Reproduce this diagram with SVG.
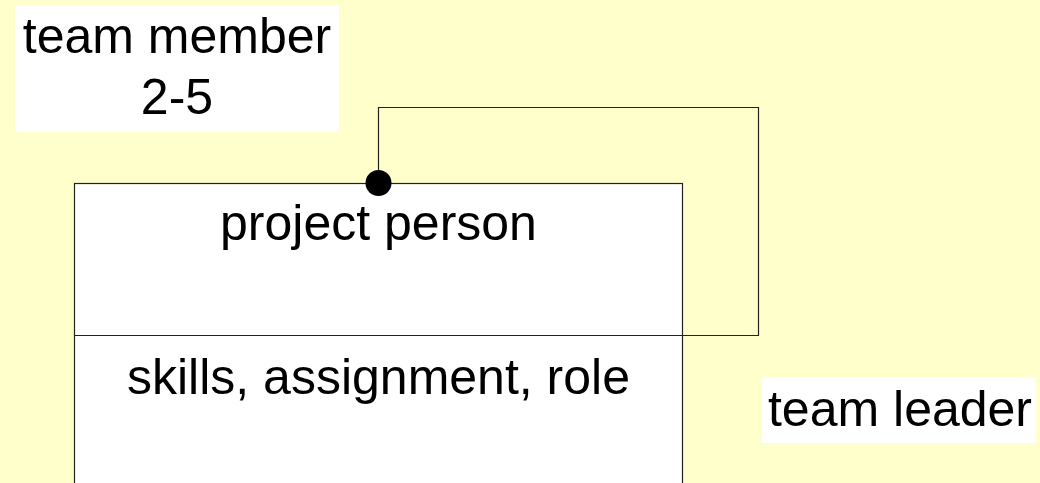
<svg xmlns="http://www.w3.org/2000/svg" width="1040" height="483" viewBox="0 0 1040 483">
<style>
.t{font-family:"Liberation Sans",Arial,sans-serif;font-size:50px;fill:#000;text-anchor:middle}
.ln{fill:none;stroke:#222;stroke-width:1.2}
.lbl{fill:#fff;stroke:none}
</style>
<rect width="1040" height="483" fill="#FFFFCC"/>
<g id="project-person">
<rect x="74.5" y="183.5" width="608" height="320" fill="#fff" class="ln" style="fill:#fff"/>
<line x1="74.5" y1="335.5" x2="682.5" y2="335.5" class="ln"/>
<text class="t" x="378.5" y="240">project person</text>
<text class="t" x="378.5" y="394">skills, assignment, role</text>
</g>
<g id="connectors">
<polyline class="ln" points="378.5,183.5 378.5,107.5 758.5,107.5 758.5,335.5 682.5,335.5"/>
<circle cx="378.5" cy="183" r="13" fill="#000"/>
</g>
<g id="label-team-member">
<rect class="lbl" x="15" y="5" width="324" height="127"/>
<text class="t" x="177" y="53">team member</text>
<text class="t" x="177" y="114">2-5</text>
</g>
<g id="label-team-leader">
<rect class="lbl" x="762" y="377" width="274" height="66"/>
<text class="t" x="900" y="426">team leader</text>
</g>
</svg>
